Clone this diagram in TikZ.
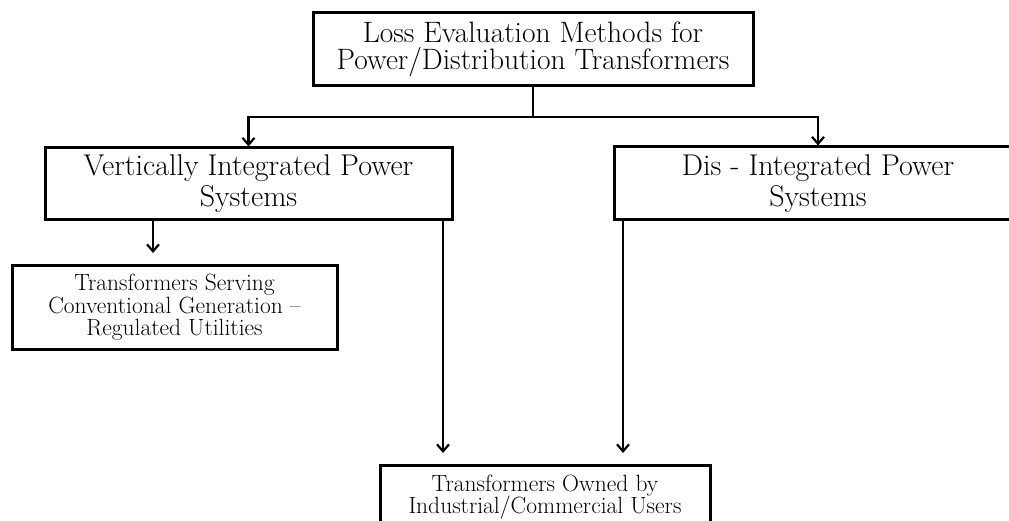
\documentclass[tikz,border=0pt]{standalone}
\usetikzlibrary{arrows.meta}
\begin{document}
\begin{tikzpicture}[x=1pt,y=-1pt,
  box/.style={draw, line width=3pt, inner sep=0pt, align=center},
  toptext/.style={font=\fontsize{29.5}{27.5}\selectfont},
  bigtext/.style={font=\fontsize{30}{31}\selectfont},
  smalltext/.style={font=\fontsize{23.5}{22.5}\selectfont},
  conn/.style={line width=2.2pt},
  arr/.style={conn, -{Straight Barb[length=7pt,width=12pt]}}]
\path[use as bounding box] (0,0) rectangle (1009,521);
\clip (0,0) rectangle (1009,521);
\node[box, toptext, minimum width=440pt, minimum height=73pt] (top) at (533,49.5)
  {Loss Evaluation Methods for\\Power/Distribution Transformers};
\node[box, bigtext, minimum width=407pt, minimum height=72pt] (vip) at (248.5,184)
  {Vertically Integrated Power\\Systems};
\node[box, bigtext, minimum width=408pt, minimum height=73pt] (dis) at (818,183.5)
  {Dis - Integrated Power\\Systems};
\node[box, smalltext, minimum width=325pt, minimum height=83pt] (serve) at (174.5,307.5)
  {Transformers Serving\\Conventional Generation --\\Regulated Utilities};
\node[box, smalltext, minimum width=330pt, minimum height=64pt] (own) at (545,497)
  {Transformers Owned by\\Industrial/Commercial Users};
\coordinate (j) at (533,117);
\coordinate (a1) at (153,253);
\coordinate (a2) at (443,453);
\coordinate (a3) at (623,453);
\draw[conn] (top.south) -- (j);
\draw[arr] (j) -| (vip.north);
\draw[arr] (j) -| (dis.north);
\draw[arr] (vip.south -| a1) -- (a1);
\draw[arr] (vip.south -| a2) -- (a2);
\draw[arr] (dis.south -| a3) -- (a3);
\end{tikzpicture}
\end{document}
